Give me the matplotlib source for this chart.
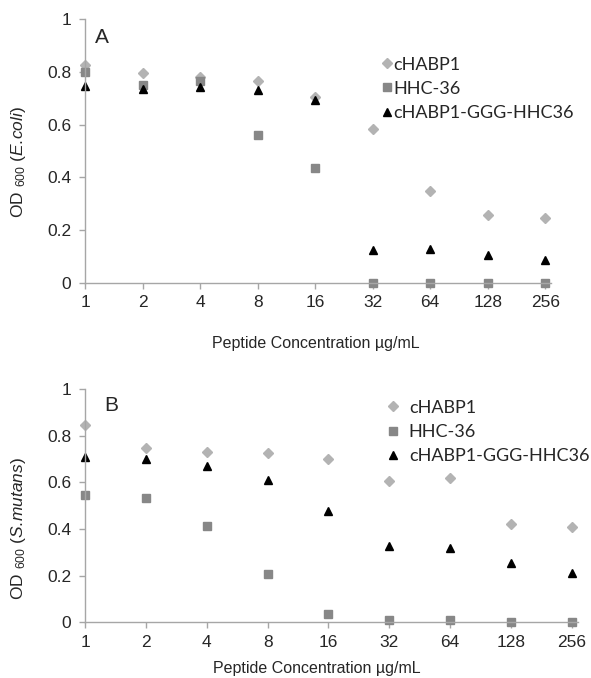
import numpy as np
import matplotlib
matplotlib.use("Agg")
import matplotlib.pyplot as plt

plt.rcParams['font.family'] = 'Liberation Sans'
plt.rcParams['mathtext.fontset'] = 'custom'
plt.rcParams['mathtext.rm'] = 'Liberation Sans'
plt.rcParams['mathtext.it'] = 'Liberation Sans:italic'

concentratii = ['1', '2', '4', '8', '16', '32', '64', '128', '256']
serii = ['cHABP1', 'HHC-36', 'cHABP1-GGG-HHC36']

ecoli_chabp1 = [0.825, 0.795, 0.78, 0.765, 0.705, 0.583, 0.348, 0.257, 0.247]
ecoli_hhc36 = [0.80, 0.75, 0.766, 0.56, 0.437, 0.0, 0.0, 0.0, 0.0]
ecoli_fuziune = [0.746, 0.733, 0.743, 0.731, 0.695, 0.126, 0.13, 0.105, 0.088]

smutans_chabp1 = [0.847, 0.745, 0.732, 0.724, 0.701, 0.607, 0.618, 0.422, 0.409]
smutans_hhc36 = [0.544, 0.531, 0.412, 0.209, 0.037, 0.01, 0.01, 0.0, 0.0]
smutans_fuziune = [0.707, 0.702, 0.671, 0.608, 0.475, 0.328, 0.318, 0.253, 0.21]

culori = ['#b3b3b3', '#878787', '#000000']
markere = ['D', 's', '^']
dim_markere = [4.8, 5.8, 5.8]
gri = '#a6a6a6'
text_col = '#262626'


def panou(ax, valori, litera, lit_x, ylabel, leg_x, leg_y, leg_pad):
    x = np.arange(len(concentratii))
    for v, c, m, s, n in zip(valori, culori, markere, dim_markere, serii):
        ax.plot(x, v, linestyle='none', marker=m, color=c, ms=s, label=n, clip_on=False)
    ax.set_xlim(0, 8.1)
    ax.set_ylim(0, 1)
    ax.set_xticks(x)
    ax.set_xticklabels(concentratii)
    ax.set_yticks([0, 0.2, 0.4, 0.6, 0.8, 1])
    ax.set_yticklabels(['0', '0.2', '0.4', '0.6', '0.8', '1'])
    for s in ['top', 'right']:
        ax.spines[s].set_visible(False)
    for s in ['left', 'bottom']:
        ax.spines[s].set_color(gri)
        ax.spines[s].set_linewidth(1.0)
    ax.tick_params(axis='both', colors=gri, labelcolor=text_col, labelsize=12.5,
                   length=4, width=1.0, direction='out')
    ax.tick_params(axis='x', pad=5)
    ax.tick_params(axis='y', pad=6)
    ax.text(lit_x, 0.93, litera, transform=ax.transAxes, fontsize=15,
            color=text_col, va='center', ha='left')
    ax.set_ylabel(ylabel, fontsize=12.5, color=text_col)
    leg = ax.legend(loc='upper left', bbox_to_anchor=(leg_x, leg_y), frameon=False,
                    handlelength=0.6, handletextpad=leg_pad, labelspacing=0.45,
                    borderaxespad=0, prop={'family': 'Lato', 'size': 13})
    for t in leg.get_texts():
        t.set_color(text_col)


fig = plt.figure(figsize=(5.91, 6.78), dpi=100)

ax1 = fig.add_axes([85 / 591, 1 - 283 / 678, 466 / 591, 264 / 678])
panou(ax1, [ecoli_chabp1, ecoli_hhc36, ecoli_fuziune], 'A', 0.022,
      r'OD $_{\mathregular{600}}$ ($\mathit{E.\!coli}$)', 0.62, 0.885, 0.05)
ax1.set_xlabel('Peptide Concentration µg/mL', fontsize=11.5, color=text_col)
ax1.xaxis.set_label_coords(0.495, -0.2)
ax1.yaxis.set_label_coords(-0.122, 0.46)

ax2 = fig.add_axes([85 / 591, 1 - 622.3 / 678, 493 / 591, 233.3 / 678])
panou(ax2, [smutans_chabp1, smutans_hhc36, smutans_fuziune], 'B', 0.04,
      r'OD $_{\mathregular{600}}$ ($\mathit{S.\!mutans}$)', 0.6, 0.985, 0.55)
ax2.set_xlabel('Peptide Concentration µg/mL', fontsize=11.5, color=text_col)
ax2.xaxis.set_label_coords(0.47, -0.165)
ax2.yaxis.set_label_coords(-0.116, 0.4)

plt.savefig('out.png', dpi=100)
